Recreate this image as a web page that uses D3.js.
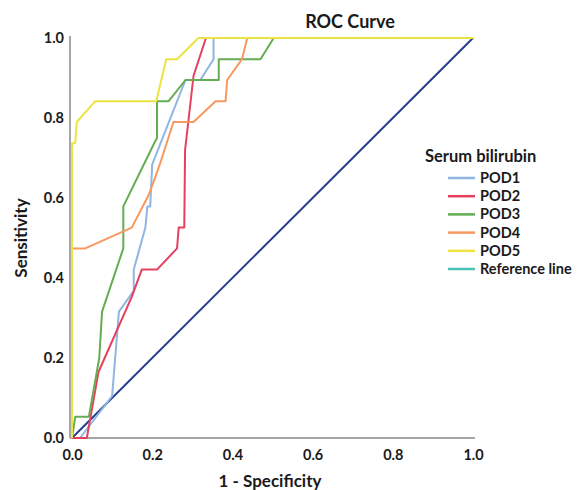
<!DOCTYPE html>
<html>
<head>
<meta charset="utf-8">
<script src="https://cdn.jsdelivr.net/npm/d3@7"></script>
<style>
  body { margin: 0; background: #fff; }
  svg text { font-family: Lato, "Open Sans", sans-serif; font-weight: bold; fill: #1a1a1a; }
</style>
</head>
<body>
<svg id="chart" width="579" height="490"></svg>
<script>
// ROC points (1 - specificity, sensitivity)
const pod1Fpr = [0, 0.02, 0.1, 0.117, 0.154, 0.154, 0.183, 0.188, 0.195, 0.2, 0.283, 0.32, 0.353, 0.353, 1];
const pod1Tpr = [0, 0, 0.105, 0.316, 0.368, 0.421, 0.526, 0.579, 0.579, 0.684, 0.895, 0.895, 0.947, 1, 1];

const pod2Fpr = [0, 0.037, 0.066, 0.149, 0.174, 0.212, 0.262, 0.266, 0.28, 0.282, 0.29, 0.303, 0.334, 1];
const pod2Tpr = [0, 0, 0.165, 0.353, 0.421, 0.421, 0.474, 0.526, 0.526, 0.72, 0.79, 0.905, 1, 1];

const pod3Fpr = [0, 0.008, 0.042, 0.068, 0.075, 0.128, 0.128, 0.205, 0.212, 0.212, 0.241, 0.283, 0.366, 0.366, 0.47, 0.503, 1];
const pod3Tpr = [0, 0.053, 0.053, 0.2, 0.316, 0.474, 0.579, 0.737, 0.75, 0.842, 0.842, 0.895, 0.895, 0.947, 0.947, 1, 1];

const pod4Fpr = [0, 0, 0.033, 0.149, 0.19, 0.208, 0.22, 0.253, 0.303, 0.358, 0.383, 0.387, 0.424, 0.437, 1];
const pod4Tpr = [0, 0.474, 0.474, 0.526, 0.605, 0.653, 0.687, 0.79, 0.79, 0.842, 0.842, 0.895, 0.947, 1, 1];

const pod5Fpr = [0, 0, 0.008, 0.012, 0.058, 0.21, 0.235, 0.262, 0.315, 1];
const pod5Tpr = [0, 0.737, 0.737, 0.79, 0.842, 0.842, 0.947, 0.947, 1, 1];

const refFpr = [0, 1];
const refTpr = [0, 1];

const seriesNames = ["POD1", "POD2", "POD3", "POD4", "POD5", "Reference line"];
const seriesColors = ["#8fb5e3", "#e6405e", "#64ad52", "#f7995f", "#ece443", "#4cc3b6"];
const tickValues = [0, 0.2, 0.4, 0.6, 0.8, 1.0];

const series = [
    {name: "POD1", fpr: pod1Fpr, tpr: pod1Tpr, color: seriesColors[0]},
    {name: "POD2", fpr: pod2Fpr, tpr: pod2Tpr, color: seriesColors[1]},
    {name: "POD3", fpr: pod3Fpr, tpr: pod3Tpr, color: seriesColors[2]},
    {name: "POD4", fpr: pod4Fpr, tpr: pod4Tpr, color: seriesColors[3]},
    {name: "POD5", fpr: pod5Fpr, tpr: pod5Tpr, color: seriesColors[4]}
];

const svg = d3.select("#chart");
const margin = {left: 72, top: 38};
const width = 401, height = 400;

const x = d3.scaleLinear().domain([0, 1]).range([0, width]);
const y = d3.scaleLinear().domain([0, 1]).range([height, 0]);

const g = svg.append("g").attr("transform", `translate(${margin.left},${margin.top})`);

// axes
const xAxis = g.append("g")
    .attr("transform", `translate(0,${height})`)
    .call(d3.axisBottom(x).tickValues(tickValues).tickSize(0).tickPadding(12).tickFormat(d3.format(".1f")));
const yAxis = g.append("g")
    .call(d3.axisLeft(y).tickValues(tickValues).tickSize(0).tickPadding(8).tickFormat(d3.format(".1f")));

[xAxis, yAxis].forEach(a => {
    a.select(".domain").attr("stroke", "#a6a6a6").attr("stroke-width", 2);
    a.selectAll("text").style("font-size", "14.5px").attr("fill", "#1a1a1a");
});
xAxis.select(".domain").attr("d", `M-2,0H${width + 2}`);
yAxis.select(".domain").attr("d", `M-2,${height}V-2`);

const line = d3.line()
    .x(d => x(d[0]))
    .y(d => y(d[1]));

// diagonal reference
g.append("path")
    .datum(d3.zip(refFpr, refTpr))
    .attr("d", line)
    .attr("fill", "none")
    .attr("stroke", "#263f8e")
    .attr("stroke-width", 2);

g.selectAll(".roc")
    .data(series)
    .join("path")
    .attr("class", "roc")
    .attr("d", d => line(d3.zip(d.fpr, d.tpr)))
    .attr("fill", "none")
    .attr("stroke", d => d.color)
    .attr("stroke-width", 2)
    .attr("stroke-linejoin", "round");

// titles
svg.append("text")
    .attr("x", 350).attr("y", 28)
    .attr("text-anchor", "middle")
    .style("font-size", "18px")
    .text("ROC Curve");

svg.append("text")
    .attr("x", 270).attr("y", 487)
    .attr("text-anchor", "middle")
    .style("font-size", "17px")
    .text("1 - Specificity");

svg.append("text")
    .attr("transform", "translate(27,238) rotate(-90)")
    .attr("text-anchor", "middle")
    .style("font-size", "17px")
    .text("Sensitivity");

// legend
const legend = svg.append("g").attr("transform", "translate(425,162)");
legend.append("text")
    .attr("x", 0).attr("y", 0)
    .style("font-size", "16.5px")
    .text("Serum bilirubin");

const item = legend.selectAll(".item")
    .data(seriesNames)
    .join("g")
    .attr("class", "item")
    .attr("transform", (d, i) => `translate(0,${16 + i * 18.2})`);

item.append("line")
    .attr("x1", 23).attr("x2", 50)
    .attr("y1", 0).attr("y2", 0)
    .attr("stroke", (d, i) => seriesColors[i])
    .attr("stroke-width", 2.5);

item.append("text")
    .attr("x", 55).attr("y", 5)
    .style("font-size", "14.5px")
    .text(d => d);
</script>
</body>
</html>
